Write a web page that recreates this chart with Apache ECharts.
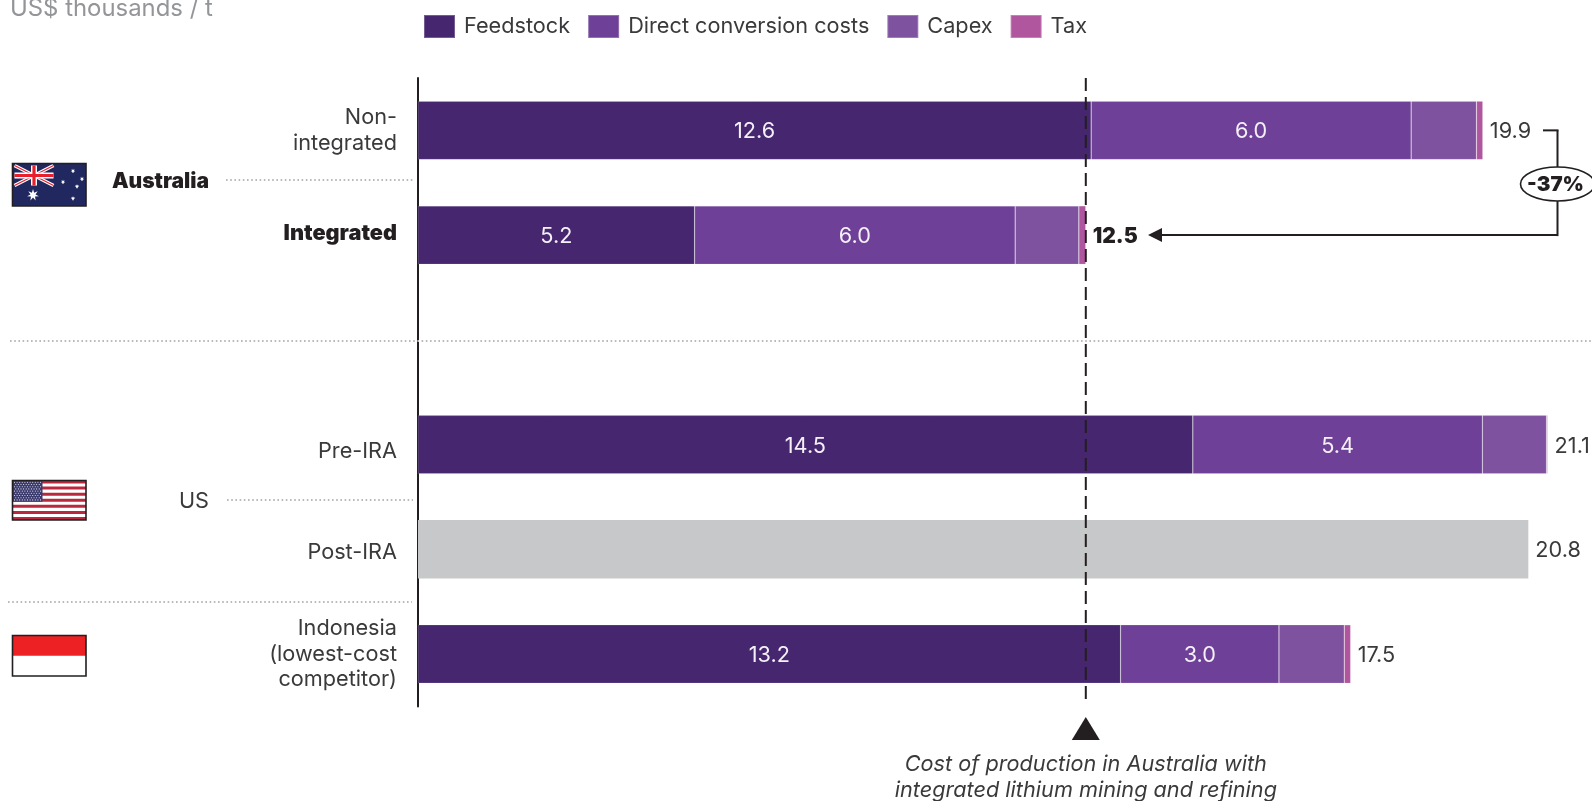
<!DOCTYPE html>
<html><head><meta charset="utf-8">
<style>html,body{margin:0;padding:0;background:#fff}#c{width:1592px;height:801px}</style>
<script src="https://cdn.jsdelivr.net/npm/echarts@6/dist/echarts.min.js"></script>
</head><body><div id="c"></div>
<script>
const categories = ['Non-\nintegrated','Integrated','','Pre-IRA','Post-IRA','Indonesia\n(lowest-cost\ncompetitor)'];
const feedstock = [12.58,5.17,null,14.48,null,13.13];
const directConversion = [5.98,5.99,null,5.41,null,2.96];
const capex = [1.22,1.19,null,1.2,null,1.22];
const tax = [0.12,0.13,null,0.02,null,0.12];
const postIra = [null,null,null,null,20.75,null];
const feedstockLabels = ['12.6','5.2','','14.5','','13.2'];
const directLabels = ['6.0','6.0','','5.4','','3.0'];
const totalLabels = ['19.9','12.5','','21.1','20.8','17.5'];
const referenceCost = 12.48;
const changeLabel = '-37%';
const legendNames = ['Feedstock','Direct conversion costs','Capex','Tax'];
const unitLabel = 'US$ thousands / t';
const captionLines = 'Cost of production in Australia with\nintegrated lithium mining and refining';

const FONT = 'Inter, sans-serif', INK = '#3a3a3c', DARK = '#231f20', DOT = '#b9babc', FS = 21.7;
const edge = {borderColor:'rgba(255,255,255,0.25)',borderWidth:0.6};
const chart = echarts.init(document.getElementById('c'),null,{renderer:'canvas'});

function bar(name,data,color,labels,extra){
  return Object.assign({
    name,type:'bar',stack:'cost',data,barWidth:58.5,animation:false,
    itemStyle:Object.assign({color},edge),
    label:labels?{show:true,position:'inside',offset:[0,1.5],color:'#f4f0f7',fontFamily:FONT,fontSize:FS,
      formatter:p=>labels[p.dataIndex]}:{show:false}
  },extra||{});
}
const totalLabel = {show:true,position:'right',distance:7,offset:[0,1.5],color:INK,fontFamily:FONT,fontSize:FS,
  formatter:p=>p.dataIndex===1?'{b|'+totalLabels[1]+'}':totalLabels[p.dataIndex],
  rich:{b:{fontFamily:FONT,fontSize:21,fontWeight:900,color:DARK}}};

chart.setOption({
  backgroundColor:'#fff',animation:false,
  textStyle:{fontFamily:FONT},
  legend:{data:legendNames,left:423,top:14,padding:0,itemWidth:31,itemHeight:23,itemGap:17,icon:'rect',
    selectedMode:false,textStyle:{color:INK,fontFamily:FONT,fontSize:FS,padding:[0,0,0,4]}},
  grid:{left:418,top:78,right:0,height:628.4,containLabel:false},
  xAxis:{type:'value',min:0,max:21.94,show:false,splitLine:{show:false}},
  yAxis:{type:'category',inverse:true,data:categories,
    axisLine:{show:true,lineStyle:{color:DARK,width:2}},axisTick:{show:false},
    axisLabel:{margin:21,align:'right',color:INK,fontFamily:FONT,fontSize:FS,lineHeight:25.5,
      formatter:v=>v==='Integrated'?'{b|Integrated}':v==='Pre-IRA'?'{p|Pre-IRA}':v==='Post-IRA'?'{q|Post-IRA}':v,
      rich:{b:{fontFamily:FONT,fontSize:FS,fontWeight:900,color:DARK,padding:[0,0,4,0]},
        p:{fontFamily:FONT,fontSize:FS,color:INK,padding:[14,0,0,0]},
        q:{fontFamily:FONT,fontSize:FS,color:INK,padding:[6,0,0,0]}}}},
  series:[
    bar('Feedstock',feedstock,'#46266f',feedstockLabels),
    bar('Direct conversion costs',directConversion,'#6f4098',directLabels),
    bar('Capex',capex,'#7e529f',null),
    bar('Tax',tax,'#b0569f',null,{label:totalLabel}),
    {name:'Post-IRA',type:'bar',stack:'cost',data:postIra,barWidth:58.5,animation:false,
      itemStyle:{color:'#c7c8ca'},
      label:Object.assign({},totalLabel,{formatter:p=>totalLabels[p.dataIndex]})}
  ]
});

const X = v=>chart.convertToPixel({xAxisIndex:0},v);
const Y = i=>chart.convertToPixel({yAxisIndex:0},categories[i]);
const g = [];
const Z = 20;
function line(x1,y1,x2,y2,color,w,dash,z){
  g.push({type:'line',z:z||Z,shape:{x1,y1,x2,y2},style:{stroke:color,lineWidth:w,lineDash:dash||null,lineCap:'butt'}});
}
function rect(x,y,width,height,fill,stroke,lw,z){
  g.push({type:'rect',z:z||Z,shape:{x,y,width,height},style:{fill:fill,stroke:stroke||null,lineWidth:lw||0}});
}
function text(x,y,t,o){
  g.push({type:'text',z:Z,x,y,style:Object.assign({text:t,fontFamily:FONT,fontSize:FS,fill:INK,align:'left',verticalAlign:'middle'},o||{})});
}
function circle(cx,cy,r,fill){g.push({type:'circle',z:Z+1,shape:{cx,cy,r},style:{fill}});}
function star(cx,cy,R,r,n,fill){
  const pts=[];
  for(let i=0;i<2*n;i++){const a=-Math.PI/2+i*Math.PI/n,q=i%2?r:R;pts.push([cx+q*Math.cos(a),cy+q*Math.sin(a)]);}
  g.push({type:'polygon',z:Z+1,shape:{points:pts},style:{fill}});
}

// unit
text(10,9,unitLabel,{fill:'#939598',fontSize:23.9});

// reference line, triangle and caption
const rx = X(referenceCost);
line(rx,78,rx,702,DARK,2,[13,6]);
g.push({type:'polygon',z:Z,shape:{points:[[rx,717],[rx-14,740],[rx+14,740]]},style:{fill:DARK}});
captionLines.split('\n').forEach((t,i)=>text(rx,764+i*26,t,{align:'center',fontStyle:'italic'}));

// dotted separators
const dots=[1.6,2.6];
line(10,341,1592,341,DOT,2,dots);
line(8,602,412,602,DOT,2,dots);
line(226,180,413,180,DOT,2,dots);
line(227,500,413,500,DOT,2,dots);

// group labels
text(209,182,'Australia',{align:'right',fontWeight:900,fill:DARK,fontSize:21});
text(209,501.5,'US',{align:'right'});

// change bracket
const y0=Y(0), y1=Y(1), bx=1557.5, tip=1148;
line(1543,y0,bx+1,y0,DARK,2);
line(bx,y0,bx,y1+1,DARK,2);
line(bx,y1,tip+10,y1,DARK,2);
g.push({type:'polygon',z:Z,shape:{points:[[tip,y1],[tip+14,y1-7],[tip+14,y1+7]]},style:{fill:DARK}});
g.push({type:'ellipse',z:Z+1,shape:{cx:bx,cy:184,rx:37,ry:17},style:{fill:'#fff',stroke:DARK,lineWidth:1.6}});
g.push({type:'text',z:Z+2,x:bx-2,y:185,style:{text:changeLabel,fontFamily:FONT,fontSize:20.5,fontWeight:900,fill:DARK,align:'center',verticalAlign:'middle'}});

// flags
const FX=12.5, FW=73.5;
// Australia
(function(){
  const y=163.5,h=42.5,nv='#20285f';
  rect(FX,y,FW,h,nv);
  const cx0=FX+2,cy0=y+2,cw=39,ch=20;
  line(cx0,cy0,cx0+cw,cy0+ch,'#fff',3.5);line(cx0+cw,cy0,cx0,cy0+ch,'#fff',3.5);
  line(cx0,cy0,cx0+cw,cy0+ch,'#e8202e',1.2);line(cx0+cw,cy0,cx0,cy0+ch,'#e8202e',1.2);
  line(cx0+cw/2,cy0,cx0+cw/2,cy0+ch,'#fff',6);line(cx0,cy0+ch/2,cx0+cw,cy0+ch/2,'#fff',6);
  line(cx0+cw/2,cy0,cx0+cw/2,cy0+ch,'#e8202e',3.2);line(cx0,cy0+ch/2,cx0+cw,cy0+ch/2,'#e8202e',3.2);
  star(33,195,6,2.6,7,'#fff');
  [[73,171],[63,182],[82,179],[77,186.5]].forEach(p=>star(p[0],p[1],2.4,1,7,'#fff'));
  star(73,198.5,2.4,1,7,'#fff');
  rect(FX,y,FW,h,'rgba(0,0,0,0)',DARK,1.6,Z+2);
})();
// United States
(function(){
  const y=480.5,h=39.5,sh=h/13;
  rect(FX,y,FW,h,'#fff');
  for(let i=0;i<13;i+=2)rect(FX,y+i*sh,FW,sh,'#b9283c');
  rect(FX,y,30,sh*7,'#3c3b6e');
  for(let r=0;r<9;r++)for(let c=0;c<(r%2?10:11);c++)
    circle(FX+2+(r%2?1.3:0)+c*2.6,y+1.8+r*2.2,0.55,'#e8e8f2');
  rect(FX,y,FW,h,'rgba(0,0,0,0)',DARK,1.6,Z+2);
})();
// Indonesia
(function(){
  const y=635.5,h=40.5;
  rect(FX,y,FW,h,'#fff');
  rect(FX,y,FW,h/2,'#ed2024');
  rect(FX,y,FW,h,'rgba(0,0,0,0)',DARK,1.6,Z+2);
})();

chart.setOption({graphic:{elements:g}});
</script></body></html>
